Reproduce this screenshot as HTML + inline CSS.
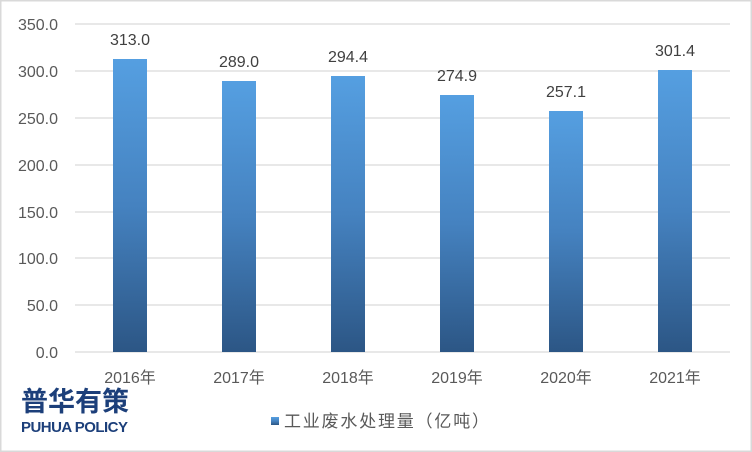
<!DOCTYPE html>
<html><head><meta charset="utf-8"><style>
body{margin:0;width:752px;height:452px;background:#fff;overflow:hidden}
svg{display:block}
text{font-family:"Liberation Sans","Noto Sans CJK SC",sans-serif}
</style></head><body>
<svg width="752" height="452" viewBox="0 0 752 452">
<defs><linearGradient id="g" x1="0" y1="0" x2="0" y2="1">
<stop offset="0" stop-color="#559fe1"/><stop offset="0.5" stop-color="#4582c0"/><stop offset="1" stop-color="#2c5685"/></linearGradient></defs>
<rect x="0.5" y="0.5" width="751" height="451" fill="#fff" stroke="#d9d9d9" stroke-width="2"/>
<g stroke="#d9d9d9" stroke-width="1.3">
<line x1="75" x2="730" y1="24" y2="24"/><line x1="75" x2="730" y1="71" y2="71"/>
<line x1="75" x2="730" y1="118" y2="118"/><line x1="75" x2="730" y1="165" y2="165"/>
<line x1="75" x2="730" y1="212" y2="212"/><line x1="75" x2="730" y1="258" y2="258"/>
<line x1="75" x2="730" y1="305" y2="305"/><line x1="75" x2="730" y1="352" y2="352"/>
</g>
<g font-size="16" fill="#595959" text-anchor="end">
<text x="58" y="30">350.0</text><text x="58" y="77">300.0</text><text x="58" y="124">250.0</text>
<text x="58" y="171">200.0</text><text x="58" y="218">150.0</text><text x="58" y="264">100.0</text>
<text x="58" y="311">50.0</text><text x="58" y="358">0.0</text>
</g>
<g fill="url(#g)">
<rect x="113" y="59" width="34" height="293"/>
<rect x="222" y="81" width="34" height="271"/>
<rect x="331" y="76" width="34" height="276"/>
<rect x="440" y="95" width="34" height="257"/>
<rect x="549" y="111" width="34" height="241"/>
<rect x="658" y="70" width="34" height="282"/>
</g>
<g font-size="16" fill="#404040" text-anchor="middle">
<text x="130" y="45">313.0</text><text x="239" y="67">289.0</text><text x="348" y="62">294.4</text>
<text x="457" y="81">274.9</text><text x="566" y="97">257.1</text><text x="675" y="56">301.4</text>
</g>
<g font-size="16" fill="#595959" text-anchor="middle">
<text x="130" y="383">2016年</text><text x="239" y="383">2017年</text><text x="348" y="383">2018年</text>
<text x="457" y="383">2019年</text><text x="566" y="383">2020年</text><text x="675" y="383">2021年</text>
</g>
<text x="21" y="411" font-size="27" font-weight="bold" fill="#1c3f7a" style="font-family:'Noto Sans CJK SC',sans-serif">普华有策</text>
<text x="21" y="432" font-size="15" font-weight="bold" fill="#1c3f7a" textLength="107">PUHUA POLICY</text>
<rect x="271" y="417" width="8" height="8" fill="url(#g)"/>
<text x="284" y="427" font-size="17" fill="#595959" textLength="205">工业废水处理量（亿吨）</text>
</svg>
</body></html>
